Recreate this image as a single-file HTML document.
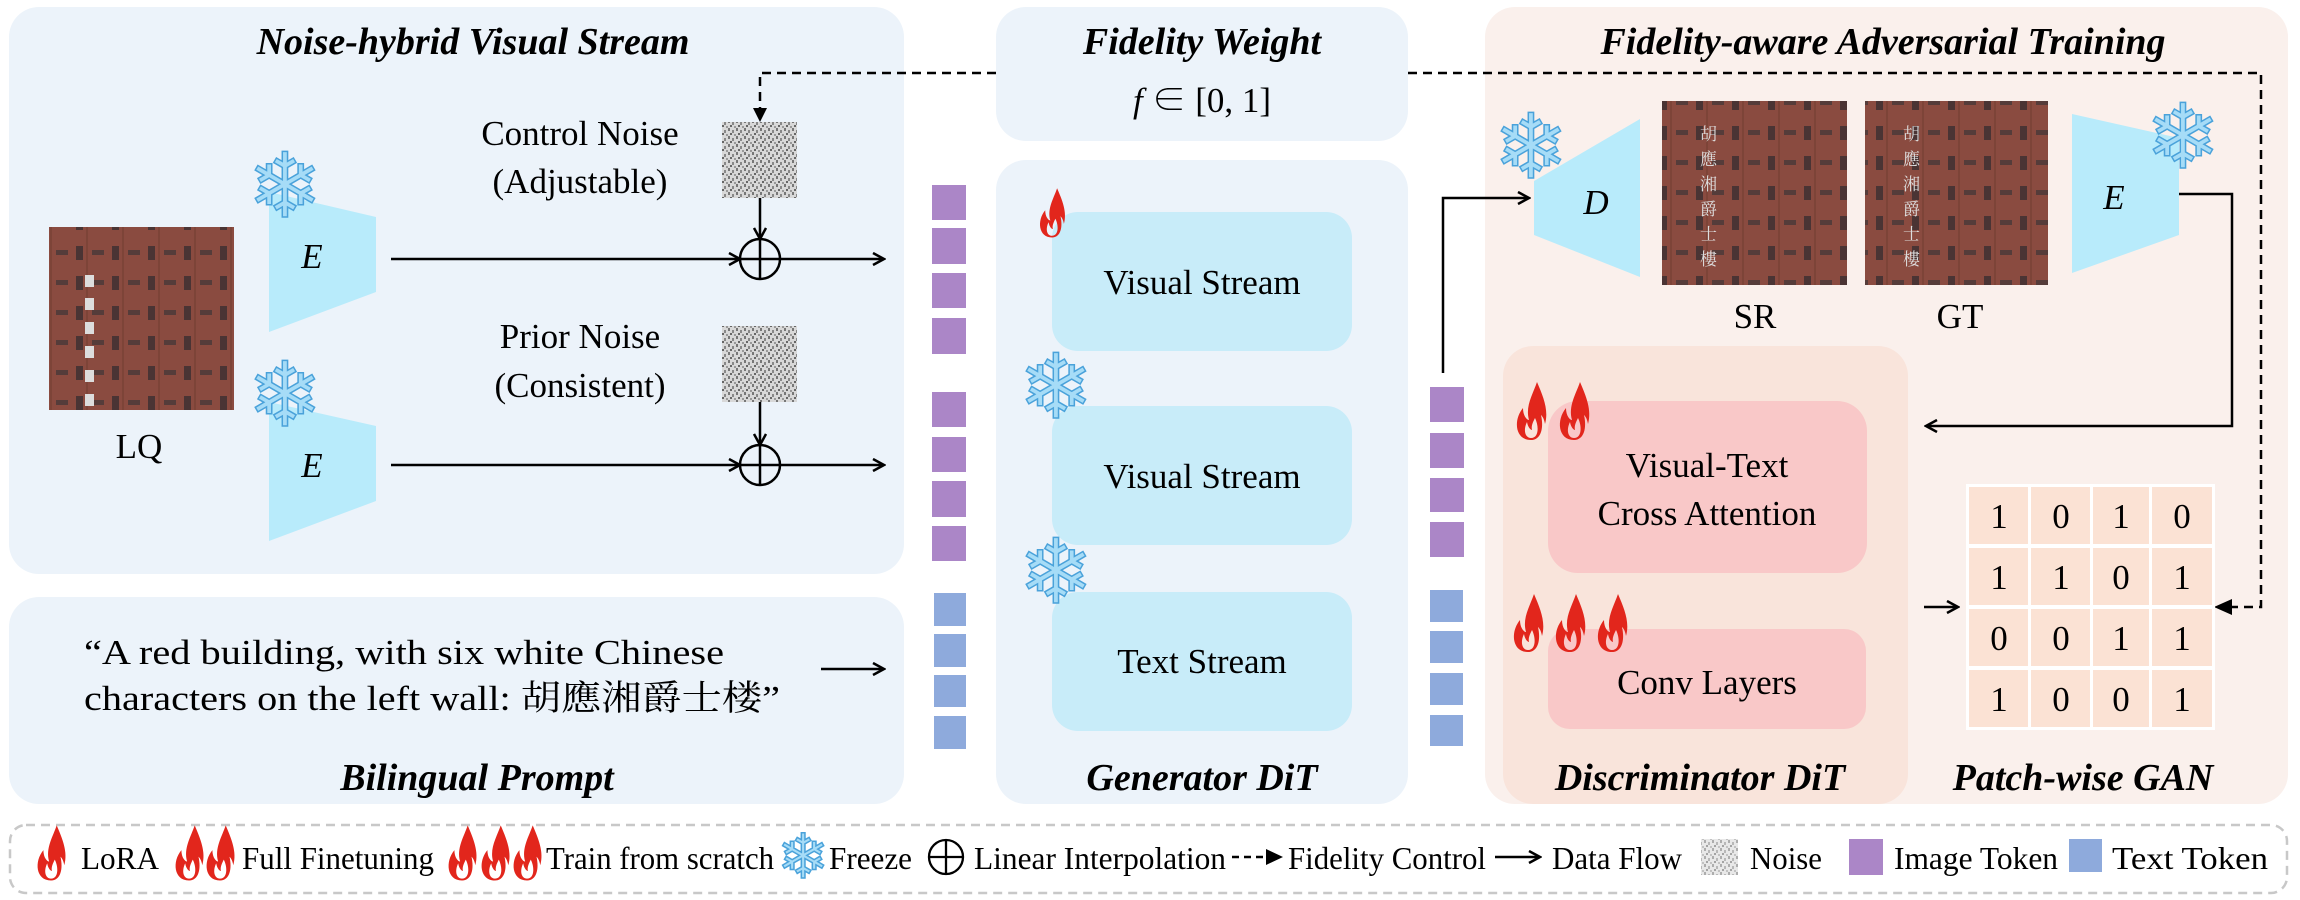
<!DOCTYPE html>
<html><head><meta charset="utf-8"><style>
html,body{margin:0;padding:0;background:#fff;}
svg{display:block}
text{font-family:"Liberation Serif","Noto Serif CJK SC",serif;fill:#000}
.t{font-weight:bold;font-style:italic;font-size:38px}
.m{font-size:35px}
.sf{font-family:"DejaVu Sans",sans-serif;fill:#a6dcf7;stroke:#4aa2da;stroke-width:1.5}
</style></head><body>
<svg width="2300" height="900" viewBox="0 0 2300 900" xmlns="http://www.w3.org/2000/svg">
<defs>
<pattern id="nz" width="8" height="8" patternUnits="userSpaceOnUse">
<rect width="8" height="8" fill="#d8d8d8"/>
<rect x="0" y="0" width="2" height="3" fill="#777"/><rect x="4" y="2" width="2" height="3" fill="#888"/>
<rect x="2" y="5" width="2" height="2" fill="#666"/><rect x="6" y="6" width="2" height="2" fill="#999"/>
</pattern>
<pattern id="bld" width="36" height="30" patternUnits="userSpaceOnUse">
<rect width="36" height="30" fill="#8a4b40"/>
<rect x="4" y="6" width="7" height="14" fill="#4a3434"/><rect x="20" y="10" width="12" height="5" fill="#553c3a"/>
<rect x="14" y="0" width="2" height="30" fill="#7d4438"/>
</pattern>
<marker id="ah" markerWidth="14" markerHeight="14" refX="12" refY="7" orient="auto" markerUnits="userSpaceOnUse">
<path d="M1,1 L12,7 L1,13" fill="none" stroke="#000" stroke-width="2.5"/></marker>
<g id="fl"><path d="M0,30 C-16,30 -18,10 -8,-2 C-8,6 -4,10 -2,10 C-6,-4 2,-16 6,-28 C12,-14 18,0 14,14 C13,8 11,6 10,5 C13,18 10,30 0,30 Z M0,28 C-6,28 -8,20 -4,12 C-3,18 0,20 1,20 C0,16 2,12 4,8 C8,16 8,28 0,28 Z" fill="#e2261c" fill-rule="evenodd"/></g>
</defs>

<rect x="9" y="7" width="895" height="567" rx="30" fill="#ecf3fa"/>
<rect x="9" y="597" width="895" height="207" rx="30" fill="#ecf3fa"/>
<rect x="996" y="7" width="412" height="134" rx="30" fill="#ecf3fa"/>
<rect x="996" y="160" width="412" height="644" rx="30" fill="#ecf3fa"/>
<rect x="1485" y="7" width="803" height="797" rx="30" fill="#faf0ec"/>
<rect x="1503" y="346" width="405" height="458" rx="30" fill="#f9e4db"/>

<text class="t" x="473" y="54" text-anchor="middle">Noise-hybrid Visual Stream</text>
<text class="t" x="477" y="790" text-anchor="middle">Bilingual Prompt</text>
<text class="t" x="1202" y="54" text-anchor="middle">Fidelity Weight</text>
<text class="m" x="1202" y="112" text-anchor="middle" style="font-style:italic">f <tspan style="font-style:normal">∈ [0, 1]</tspan></text>
<text class="t" x="1202" y="790" text-anchor="middle">Generator DiT</text>
<text class="t" x="1883" y="54" text-anchor="middle">Fidelity-aware Adversarial Training</text>
<text class="t" x="1700" y="790" text-anchor="middle">Discriminator DiT</text>
<text class="t" x="2083" y="790" text-anchor="middle">Patch-wise GAN</text>

<rect x="49" y="227" width="185" height="183" fill="url(#bld)"/>
<g fill="#ddd"><rect x="85" y="275" width="9" height="12"/><rect x="85" y="298" width="9" height="12"/><rect x="85" y="322" width="9" height="12"/><rect x="85" y="346" width="9" height="12"/><rect x="85" y="370" width="9" height="12"/><rect x="85" y="394" width="9" height="12"/></g>
<text class="m" x="139" y="458" text-anchor="middle">LQ</text>

<polygon points="269,192 376,217 376,292 269,332" fill="#b8ebfb"/>
<text class="m" x="312" y="268" text-anchor="middle" style="font-style:italic">E</text>
<text class="sf" x="285" y="217" font-size="90" text-anchor="middle">❄</text>
<polygon points="269,402 376,426 376,501 269,541" fill="#b8ebfb"/>
<text class="m" x="312" y="477" text-anchor="middle" style="font-style:italic">E</text>
<text class="sf" x="285" y="426" font-size="90" text-anchor="middle">❄</text>

<text class="m" x="580" y="145" text-anchor="middle">Control Noise</text>
<text class="m" x="580" y="193" text-anchor="middle">(Adjustable)</text>
<text class="m" x="580" y="348" text-anchor="middle">Prior Noise</text>
<text class="m" x="580" y="397" text-anchor="middle">(Consistent)</text>
<rect x="722" y="122" width="75" height="76" fill="url(#nz)"/>
<rect x="722" y="326" width="75" height="76" fill="url(#nz)"/>

<g stroke="#000" stroke-width="2.5" fill="none">
<line x1="391" y1="259" x2="740" y2="259" marker-end="url(#ah)"/>
<line x1="780" y1="259" x2="884" y2="259" marker-end="url(#ah)"/>
<line x1="391" y1="465" x2="740" y2="465" marker-end="url(#ah)"/>
<line x1="780" y1="465" x2="884" y2="465" marker-end="url(#ah)"/>
<line x1="760" y1="198" x2="760" y2="239" marker-end="url(#ah)"/>
<line x1="760" y1="402" x2="760" y2="445" marker-end="url(#ah)"/>
<circle cx="760" cy="259" r="20"/><line x1="740" y1="259" x2="780" y2="259"/><line x1="760" y1="239" x2="760" y2="279"/>
<circle cx="760" cy="465" r="20"/><line x1="740" y1="465" x2="780" y2="465"/><line x1="760" y1="445" x2="760" y2="485"/>
<line x1="821" y1="669" x2="884" y2="669" marker-end="url(#ah)"/>
</g>
<g stroke="#000" stroke-width="2.5" fill="none" stroke-dasharray="9,6">
<polyline points="996,73 760,73 760,110"/>
<polyline points="1408,73 2261,73 2261,607 2230,607"/>
</g>
<path d="M760,122 L753,108 L767,108 Z" fill="#000"/>
<path d="M2214,607 L2232,599 L2232,615 Z" fill="#000"/>

<text class="m" x="84" y="664" textLength="640" lengthAdjust="spacingAndGlyphs">“A red building, with six white Chinese</text>
<text class="m" x="84" y="710" textLength="696" lengthAdjust="spacingAndGlyphs">characters on the left wall: 胡應湘爵士楼”</text>

<g fill="#ab86c7">
<rect x="932" y="185" width="34" height="35"/><rect x="932" y="228" width="34" height="36"/><rect x="932" y="273" width="34" height="35"/><rect x="932" y="318" width="34" height="36"/>
<rect x="932" y="392" width="34" height="35"/><rect x="932" y="437" width="34" height="35"/><rect x="932" y="481" width="34" height="36"/><rect x="932" y="526" width="34" height="35"/>
<rect x="1430" y="387" width="34" height="35"/><rect x="1430" y="433" width="34" height="35"/><rect x="1430" y="478" width="34" height="34"/><rect x="1430" y="522" width="34" height="35"/>
</g>
<g fill="#8eaadc">
<rect x="934" y="593" width="32" height="33"/><rect x="934" y="634" width="32" height="33"/><rect x="934" y="675" width="32" height="32"/><rect x="934" y="716" width="32" height="33"/>
<rect x="1430" y="590" width="33" height="32"/><rect x="1430" y="631" width="33" height="32"/><rect x="1430" y="673" width="33" height="32"/><rect x="1430" y="715" width="33" height="31"/>
</g>

<rect x="1052" y="212" width="300" height="139" rx="26" fill="#c8ecf9"/>
<rect x="1052" y="406" width="300" height="139" rx="26" fill="#c8ecf9"/>
<rect x="1052" y="592" width="300" height="139" rx="26" fill="#c8ecf9"/>
<text class="m" x="1202" y="294" text-anchor="middle">Visual Stream</text>
<text class="m" x="1202" y="488" text-anchor="middle">Visual Stream</text>
<text class="m" x="1202" y="673" text-anchor="middle">Text Stream</text>
<use href="#fl" transform="translate(1052,212) scale(0.85)"/>
<text class="sf" x="1056" y="418" font-size="90" text-anchor="middle">❄</text>
<text class="sf" x="1056" y="603" font-size="90" text-anchor="middle">❄</text>

<g stroke="#000" stroke-width="2.5" fill="none">
<polyline points="1443,373 1443,198 1529,198" marker-end="url(#ah)"/>
<polyline points="2179,194 2232,194 2232,426 1926,426" marker-end="url(#ah)"/>
<line x1="1924" y1="607" x2="1958" y2="607" marker-end="url(#ah)"/>
</g>
<polygon points="1534,181 1640,119 1640,277 1534,235" fill="#b8ebfb"/>
<text class="m" x="1596" y="214" text-anchor="middle" style="font-style:italic">D</text>
<text class="sf" x="1531" y="178" font-size="90" text-anchor="middle">❄</text>
<rect x="1662" y="101" width="185" height="184" fill="url(#bld)"/>
<rect x="1865" y="101" width="183" height="184" fill="url(#bld)"/>
<g font-size="17"><text x="1700" y="140" style="fill:#ddd">胡</text><text x="1700" y="165" style="fill:#ddd">應</text><text x="1700" y="190" style="fill:#ddd">湘</text><text x="1700" y="215" style="fill:#ddd">爵</text><text x="1700" y="240" style="fill:#ddd">士</text><text x="1700" y="265" style="fill:#ddd">樓</text>
<text x="1903" y="140" style="fill:#ddd">胡</text><text x="1903" y="165" style="fill:#ddd">應</text><text x="1903" y="190" style="fill:#ddd">湘</text><text x="1903" y="215" style="fill:#ddd">爵</text><text x="1903" y="240" style="fill:#ddd">士</text><text x="1903" y="265" style="fill:#ddd">樓</text></g>
<text class="m" x="1755" y="328" text-anchor="middle">SR</text>
<text class="m" x="1960" y="328" text-anchor="middle">GT</text>
<polygon points="2072,114 2179,138 2179,235 2072,273" fill="#b8ebfb"/>
<text class="m" x="2114" y="209" text-anchor="middle" style="font-style:italic">E</text>
<text class="sf" x="2183" y="168" font-size="90" text-anchor="middle">❄</text>

<rect x="1548" y="401" width="319" height="172" rx="30" fill="#f9c8c8"/>
<rect x="1548" y="629" width="318" height="100" rx="22" fill="#f9c8c8"/>
<text class="m" x="1707" y="477" text-anchor="middle">Visual-Text</text>
<text class="m" x="1707" y="525" text-anchor="middle">Cross Attention</text>
<text class="m" x="1707" y="694" text-anchor="middle">Conv Layers</text>
<use href="#fl" x="1531" y="410"/><use href="#fl" x="1574" y="410"/>
<use href="#fl" x="1528" y="622"/><use href="#fl" x="1570" y="622"/><use href="#fl" x="1612" y="622"/>

<rect x="1966" y="484" width="249" height="246" fill="#fff"/>
<g fill="#fbe2d4">
<rect x="1969" y="487" width="59" height="57"/><rect x="2031" y="487" width="59" height="57"/><rect x="2093" y="487" width="56" height="57"/><rect x="2152" y="487" width="60" height="57"/>
<rect x="1969" y="548" width="59" height="57"/><rect x="2031" y="548" width="59" height="57"/><rect x="2093" y="548" width="56" height="57"/><rect x="2152" y="548" width="60" height="57"/>
<rect x="1969" y="609" width="59" height="57"/><rect x="2031" y="609" width="59" height="57"/><rect x="2093" y="609" width="56" height="57"/><rect x="2152" y="609" width="60" height="57"/>
<rect x="1969" y="670" width="59" height="57"/><rect x="2031" y="670" width="59" height="57"/><rect x="2093" y="670" width="56" height="57"/><rect x="2152" y="670" width="60" height="57"/>
</g>
<g font-size="35" text-anchor="middle">
<text x="1999" y="528">1</text><text x="2061" y="528">0</text><text x="2121" y="528">1</text><text x="2182" y="528">0</text>
<text x="1999" y="589">1</text><text x="2061" y="589">1</text><text x="2121" y="589">0</text><text x="2182" y="589">1</text>
<text x="1999" y="650">0</text><text x="2061" y="650">0</text><text x="2121" y="650">1</text><text x="2182" y="650">1</text>
<text x="1999" y="711">1</text><text x="2061" y="711">0</text><text x="2121" y="711">0</text><text x="2182" y="711">1</text>
</g>

<rect x="10" y="825" width="2277" height="68" rx="16" fill="#fff" stroke="#c8c8c8" stroke-width="2.5" stroke-dasharray="9,6"/>
<g>
<use href="#fl" transform="translate(51,852) scale(0.95)"/>
<text x="81" y="869" font-size="32" textLength="78" lengthAdjust="spacingAndGlyphs">LoRA</text>
<use href="#fl" transform="translate(189,852) scale(0.95)"/><use href="#fl" transform="translate(220,852) scale(0.95)"/>
<text x="242" y="869" font-size="32" textLength="192" lengthAdjust="spacingAndGlyphs">Full Finetuning</text>
<use href="#fl" transform="translate(462,852) scale(0.95)"/><use href="#fl" transform="translate(495,852) scale(0.95)"/><use href="#fl" transform="translate(527,852) scale(0.95)"/>
<text x="546" y="869" font-size="32" textLength="228" lengthAdjust="spacingAndGlyphs">Train from scratch</text>
<text class="sf" x="803" y="878" font-size="62" text-anchor="middle">❄</text>
<text x="829" y="869" font-size="32" textLength="83" lengthAdjust="spacingAndGlyphs">Freeze</text>
<circle cx="946" cy="857" r="17" fill="none" stroke="#000" stroke-width="2.3"/><line x1="929" y1="857" x2="963" y2="857" stroke="#000" stroke-width="2.3"/><line x1="946" y1="840" x2="946" y2="874" stroke="#000" stroke-width="2.3"/>
<text x="974" y="869" font-size="32" textLength="252" lengthAdjust="spacingAndGlyphs">Linear Interpolation</text>
<line x1="1232" y1="857" x2="1268" y2="857" stroke="#000" stroke-width="2.5" stroke-dasharray="7,5"/>
<path d="M1283,857 L1266,849 L1266,865 Z" fill="#000"/>
<text x="1288" y="869" font-size="32" textLength="198" lengthAdjust="spacingAndGlyphs">Fidelity Control</text>
<line x1="1495" y1="857" x2="1540" y2="857" stroke="#000" stroke-width="2.5" marker-end="url(#ah)"/>
<text x="1552" y="869" font-size="32" textLength="130" lengthAdjust="spacingAndGlyphs">Data Flow</text>
<rect x="1701" y="839" width="37" height="36" fill="url(#nz)" opacity="0.6"/>
<text x="1750" y="869" font-size="32" textLength="72" lengthAdjust="spacingAndGlyphs">Noise</text>
<rect x="1849" y="839" width="34" height="36" fill="#ab86c7"/>
<text x="1894" y="869" font-size="32" textLength="164" lengthAdjust="spacingAndGlyphs">Image Token</text>
<rect x="2069" y="839" width="33" height="33" fill="#8eaadc"/>
<text x="2112" y="869" font-size="32" textLength="156" lengthAdjust="spacingAndGlyphs">Text Token</text>
</g>
</svg>
</body></html>
